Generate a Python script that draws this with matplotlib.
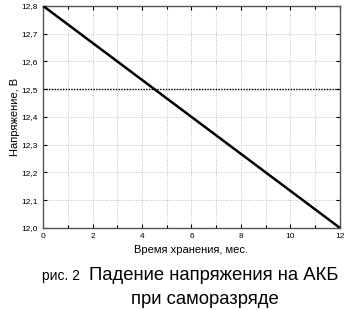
import numpy as np
import matplotlib.pyplot as plt
from matplotlib.ticker import MultipleLocator, FuncFormatter

plt.rcParams['font.family'] = ['Liberation Sans', 'DejaVu Sans']

months = [0, 12]
voltage = [12.8, 12.0]
threshold = 12.5

fig = plt.figure(figsize=(3.5, 3.1), dpi=100)
ax = fig.add_axes([0.123, 0.265, 0.848, 0.716])

ax.plot(months, voltage, '-', color='black', linewidth=1.8, zorder=3)
ax.axhline(threshold, color='black', linestyle=(0, (1, 1)), linewidth=1.0, zorder=2)

ax.set_xlim(0, 12)
ax.set_ylim(12.0, 12.8)
ax.xaxis.set_major_locator(MultipleLocator(2))
ax.xaxis.set_minor_locator(MultipleLocator(1))
ax.yaxis.set_major_locator(MultipleLocator(0.1))
ax.yaxis.set_major_formatter(FuncFormatter(lambda v, p: f'{v:.1f}'.replace('.', ',')))
ax.xaxis.set_major_formatter(FuncFormatter(lambda v, p: f'{v:.0f}'))

ax.grid(True, which='both', color='#aaaaaa', linestyle=(0, (1, 2)), linewidth=0.6)
ax.tick_params(which='both', direction='in', top=True, right=True,
               labelsize=6, length=3, width=0.8)
ax.tick_params(which='minor', length=2)
for s in ax.spines.values():
    s.set_color('#555555')
    s.set_linewidth(1.0)

ax.set_xlabel('Время хранения, мес.', fontsize=8, labelpad=4)
ax.set_ylabel('Напряжение, В', fontsize=8, labelpad=1)

fig.text(0.12, 0.097, 'рис. 2', fontsize=10, ha='left', va='baseline')
fig.text(0.254, 0.097, 'Падение напряжения на АКБ', fontsize=13.3, ha='left', va='baseline')
fig.text(0.586, 0.018, 'при саморазряде', fontsize=13.3, ha='center', va='baseline')

fig.savefig('out.png', dpi=100)
